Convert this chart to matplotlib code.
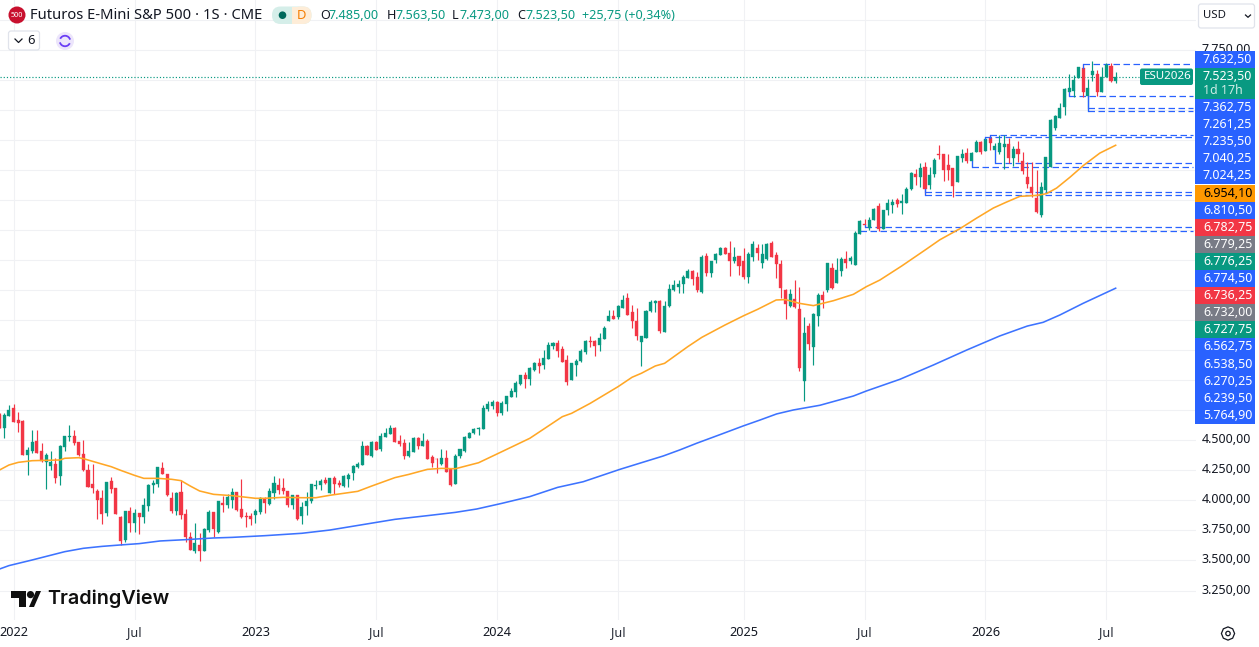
import matplotlib
matplotlib.use("Agg")
import matplotlib.pyplot as plt
from matplotlib.patches import Rectangle, FancyBboxPatch, Circle, Polygon, Arc, RegularPolygon
import numpy as np

# Weekly OHLC, index 0 is the first week of January 2022
opens = [
    4710,4605,4702,4766,4669,4660,4377,4411,4494,4411,
    4316,4286,4302,4203,4447,4530,4535,4488,4386,4253,
    4136,4078,4017,3892,4161,4100,3864,3670,3911,3814,
    3892,3864,3953,4128,4133,4272,4219,4022,3911,4069,
    3887,3698,3579,3629,3579,3753,3906,3734,3981,3961,
    4003,4069,3928,3870,3870,3878,3906,4011,3970,4058,
    4128,4106,4078,3961,4045,3873,3953,3995,4120,4128,
    4170,4064,4183,4141,4119,4177,4225,4280,4294,4455,
    4372,4488,4425,4530,4552,4602,4494,4480,4369,4405,
    4521,4452,4494,4358,4347,4299,4349,4258,4136,4369,
    4410,4521,4558,4593,4596,4760,4785,4821,4724,4801,
    4862,4904,4968,5043,5009,5084,5142,5126,5176,5287,
    5306,5259,5167,5001,5126,5159,5231,5326,5326,5293,
    5342,5495,5534,5528,5603,5683,5567,5492,5320,5353,
    5575,5644,5661,5403,5617,5750,5772,5800,5852,5908,
    5855,5736,6033,5894,5999,6041,6097,6055,5991,6033,
    5991,5861,6027,6097,5977,6008,6138,6041,5966,5750,
    5617,5672,5592,4996,5450,5278,5536,5708,5750,5936,
    5811,5911,6008,5994,5961,6216,6299,6269,6332,6449,
    6255,6415,6457,6499,6477,6477,6587,6715,6693,6770,
    6623,6715,6881,6881,6790,6765,6651,6848,6887,6823,
    6898,6981,6906,7012,6915,6898,6937,6962,6845,6923,
    6823,6687,6604,6515,6374,6582,6771,7095,7184,7275,
    7400,7408,7517,7594,7364,7539,7547,7400,7525,7614,7485,
]
highs = [
    4725,4724,4793,4802,4735,4669,4441,4585,4585,4474,
    4391,4411,4350,4461,4535,4627,4585,4488,4502,4302,
    4302,4094,4086,4155,4192,4100,3870,3911,3948,3925,
    3892,4017,4133,4170,4280,4322,4219,4072,4072,4169,
    3928,3739,3809,3726,3767,3920,3906,3995,4036,4053,
    4100,4069,4178,3906,3892,3925,4025,4025,4100,4203,
    4183,4183,4078,4045,4045,3989,4072,4136,4170,4175,
    4192,4183,4202,4169,4211,4225,4294,4319,4494,4460,
    4494,4494,4558,4599,4627,4613,4541,4510,4483,4530,
    4530,4558,4510,4377,4355,4427,4419,4266,4383,4427,
    4535,4571,4605,4607,4790,4829,4835,4829,4829,4868,
    4932,4993,5043,5070,5106,5154,5181,5251,5315,5320,
    5334,5287,5209,5140,5173,5256,5334,5370,5334,5390,
    5450,5583,5583,5625,5708,5728,5625,5597,5370,5583,
    5667,5667,5667,5661,5797,5833,5833,5875,5925,5916,
    5902,6041,6055,5991,6055,6105,6105,6158,6110,6033,
    6097,6069,6158,6133,6133,6144,6160,6069,5999,5755,
    5755,5833,5778,5522,5473,5556,5728,5742,5977,5977,
    6013,6022,6074,6033,6241,6332,6338,6354,6429,6471,
    6415,6504,6504,6518,6546,6604,6729,6754,6804,6812,
    6770,6845,6956,6881,6881,6768,6865,6920,6929,6901,
    6998,6990,7024.25,7040.25,6976,7040,7040,7012,6951,6990,
    6901,6818,6812,6748,6651,6854,7170,7206,7303,7428,
    7544,7539,7608,7632.5,7503,7655,7580,7608,7636,7636,7563.5,
]
lows = [
    4600,4521,4702,4655,4571,4377,4214,4397,4391,4322,
    4094,4253,4142,4131,4411,4497,4461,4372,4247,4114,
    4058,3845,3803,3870,4064,3887,3629,3654,3739,3739,
    3720,3814,3914,4058,4114,4219,4036,3892,3878,3842,
    3656,3587,3565,3496,3579,3739,3698,3726,3906,3934,
    3939,3914,3850,3781,3795,3814,3887,3898,3961,4009,
    4053,4053,3942,3925,3837,3803,3878,3975,4097,4086,
    4133,4064,4053,4108,4114,4114,4169,4266,4294,4377,
    4363,4419,4410,4530,4552,4488,4455,4344,4358,4405,
    4425,4452,4344,4275,4230,4294,4239,4122,4136,4355,
    4405,4516,4549,4544,4596,4743,4760,4702,4710,4743,
    4862,4862,4960,4932,4960,5079,5062,5093,5176,5259,
    5195,5148,4960,5001,5034,5148,5217,5273,5201,5245,
    5339,5495,5511,5506,5597,5542,5437,5334,5120,5348,
    5570,5564,5395,5403,5611,5744,5728,5728,5852,5792,
    5736,5728,5866,5861,5977,6041,6049,5869,5972,5875,
    5839,5811,5994,5999,5936,5999,6022,5847,5681,5509,
    5606,5603,5076,4829,5251,5126,5450,5597,5730,5755,
    5805,5869,5930,5966,5961,6216,6270.25,6249,6332,6244,
    6255,6374,6388,6438,6379,6477,6582,6623,6610,6538.5,
    6587,6693,6837,6660,6665,6526,6646,6812,6809,6774.5,
    6898,6879,6906,6915,6810.5,6881,6757,6804,6784,6818,
    6712,6596,6526,6393,6360,6568,6771,7081,7178,7206,
    7362.75,7359,7511,7359,7235.5,7489,7364,7400,7525,7483,7473,
]
closes = [
    4605,4710,4752,4655,4646,4377,4419,4488,4391,4327,
    4377,4322,4189,4455,4535,4535,4480,4377,4253,4114,
    4106,4003,3887,4155,4094,3887,3665,3911,3814,3892,
    3859,3961,4128,4144,4275,4219,4045,3911,4064,3878,
    3698,3587,3642,3579,3762,3906,3759,3995,3961,4031,
    4069,3920,3859,3864,3845,3914,4017,3981,4078,4142,
    4086,4078,3961,4045,3845,3948,3995,4136,4128,4161,
    4144,4183,4136,4128,4205,4211,4288,4302,4452,4377,
    4488,4419,4535,4558,4602,4488,4466,4369,4410,4521,
    4452,4494,4344,4313,4344,4349,4239,4128,4369,4427,
    4530,4558,4593,4602,4768,4801,4821,4724,4807,4868,
    4912,4979,5043,5009,5098,5145,5120,5181,5293,5306,
    5242,5154,4987,5140,5159,5245,5326,5320,5287,5348,
    5431,5534,5511,5617,5667,5545,5495,5367,5370,5578,
    5653,5658,5409,5617,5755,5792,5800,5861,5911,5841,
    5750,6027,5889,5991,6049,6097,6049,5991,6027,5950,
    5861,6047,6133,6055,6049,6133,6027,5963,5769,5633,
    5717,5611,5104,5389,5301,5550,5708,5667,5977,5764,
    5916,6008,5977,6013,6221,6327,6294,6332,6424,6255,
    6415,6471,6482,6465,6490,6590,6720,6693,6765,6587,
    6707,6831,6876,6748,6748,6618,6865,6881,6823,6892,
    6981,6898,7006,6970,6948,6970,6962,6845,6923,6881,
    6743,6632,6554,6402,6604,6854,7165,7198,7262,7422,
    7433,7497,7603,7400,7433,7572,7400,7525,7622,7492,7523.5,
]

# Moving averages, sampled at the listed week indices
ma_fast_weeks = [-3,-1,1,4,10,11,14,15,19,21,23,26,28,31,34,36,38,40,43,47,52,54,58,62,65,68,
                 74,77,82,85,89,92,95,100,105,111,114,118,120,124,130,133,135,138,140,145,148,153,157,
                 160,164,166,169,172,176.3,180.6,183.4,186.3,191,196.3,199.2,203.5,207.1,210.7,213.5,
                 216.4,220,222.1,224.3,227.2,230,233.6,237]
ma_fast_values = [4253,4294,4316,4330,4336,4350,4355,4347,4302,4280,4250,4208,4183,4183,4175,4164,4119,4078,4050,4039,4017,4017,4025,4022,4022,4042,
                  4075,4119,4189,4216,4258,4266,4263,4313,4405,4516,4593,4696,4724,4807,4946,5024,5057,5118,5140,5279,5356,5459,5536,
                  5589,5667,5670,5639,5620,5661,5714,5778,5833,5950,6090,6168,6260,6348,6432,6481,
                  6529,6537,6551,6598,6689,6784,6889,6954.1]
ma_slow_weeks = [-3,-1,4,11,15,19,23,27,31.5,37,43,47,54,62,68,82,89.5,95,99.6,105,111,117,122.5,130.4,135,139.7,
                 143.3,146.9,152,156.9,160.5,164.1,167.7,173.4,180.6,183.4,190.6,197.8,205,212.1,218,221.4,225,230,237]
ma_slow_values = [3429,3457,3504,3573,3601,3617,3629,3640,3662,3673,3687,3692,3706,3726,3753,3842,3875,3900,3928,3975,4031,4108,4155,4258,4313,4369,
                  4420,4475,4548,4619,4668,4719,4752,4791,4868,4910,5007,5126,5251,5368,5450,5481,5542,5639,5764.9]

# Support / resistance levels: price and the week each one starts from
level_prices = [7632.50,7362.75,7261.25,7235.50,7040.25,7024.25,6810.50,6774.50,6562.75,6538.50,6270.25,6239.50]
level_weeks = [230,227,231,231,210,209,211,206,196,196,183,182]

# Right-hand price tags below the countdown tag
tag_texts = ["7.362,75","7.261,25","7.235,50","7.040,25","7.024,25","6.954,10","6.810,50","6.782,75",
             "6.779,25","6.776,25","6.774,50","6.736,25","6.732,00","6.727,75","6.562,75","6.538,50",
             "6.270,25","6.239,50","5.764,90"]
tag_kinds = ["b","b","b","b","b","o","b","r","g","t","b","r","g","t","b","b","b","b","b"]

price_ticks = [7750,4500,4250,4000,3750,3500,3250]
price_tick_labels = ["7.750,00","4.500,00","4.250,00","4.000,00","3.750,00","3.500,00","3.250,00"]
time_weeks = [0,26,52,78,104,130,157,183,209,235]
time_labels = ["2022","Jul","2023","Jul","2024","Jul","2025","Jul","2026","Jul"]

UP = "#089981"
DOWN = "#f23645"
BLUE = "#2962ff"
INK = "#131722"
GRID = "#f0f1f4"
FONT = ["Noto Sans", "DejaVu Sans"]
plt.rcParams["font.family"] = FONT

W, H = 1259, 647
PANE_W, PANE_H = 1196, 620
fig = plt.figure(figsize=(W / 100, H / 100), dpi=100, facecolor="white")
ax = fig.add_axes([0, 1 - PANE_H / H, PANE_W / W, PANE_H / H])

# Scales: 4.65 px per week, 0.1202 px per point
px_week, px_point = 4.65, 0.1202
ax.set_xlim(-13.6 / px_week, (PANE_W - 13.6) / px_week)
ax.set_ylim(3250 - (PANE_H - 590.5) / px_point, 3250 + 590.5 / px_point)
ax.set_xticks(time_weeks)
ax.set_yticks(np.arange(3250, 8001, 250))
ax.grid(True, color=GRID, lw=0.8)
ax.set_axisbelow(True)
ax.tick_params(length=0, labelbottom=False, labelleft=False)
for s in ax.spines.values():
    s.set_visible(False)

weeks = np.arange(-3, 238)
o, h, l, c = map(np.array, (opens, highs, lows, closes))
colors = [UP if ci >= oi else DOWN for oi, ci in zip(o, c)]

# Dashed levels with the solid stub back to the body of the pivot candle
for price, wk in zip(level_prices, level_weeks):
    ax.plot([wk, 253.7], [price, price], color=BLUE, lw=0.9, dashes=(5.2, 2.8), zorder=2)

ax.vlines(weeks, l, h, colors=colors, lw=0.85, zorder=3)
ax.bar(weeks, np.abs(c - o), bottom=np.minimum(o, c), width=0.66, color=colors,
       edgecolor=colors, linewidth=0.25, zorder=4)

for price, wk in zip(level_prices, level_weeks):
    i = wk + 3
    top, bot = max(o[i], c[i]), min(o[i], c[i])
    if price > top:
        ax.plot([wk, wk], [top, price], color=BLUE, lw=0.85, zorder=5)
    elif price < bot:
        ax.plot([wk, wk], [bot, price], color=BLUE, lw=0.85, zorder=5)

ax.plot(ma_fast_weeks, ma_fast_values, color="#ffa726", lw=1.15, zorder=5)
ax.plot(ma_slow_weeks, ma_slow_values, color="#3d73ff", lw=1.15, zorder=5)

# Last-price dotted line, stops at the contract tag
ax.plot([-3, (1139 - 13.6) / px_week], [closes[-1], closes[-1]], color=UP, lw=0.85,
        dashes=(1, 1.7), zorder=2)

# Overlay in pixel units for the price scale and the header furniture
ov = fig.add_axes([0, 0, 1, 1], zorder=10)
ov.set_xlim(0, W)
ov.set_ylim(H, 0)
ov.axis("off")
ov.patch.set_alpha(0)


def txt(x, y, s, size=9.4, color=INK, ha="left", weight="normal", **kw):
    return ov.text(x, y, s, fontsize=size, color=color, ha=ha, va="center", fontweight=weight, **kw)


# Axis tick labels
for p, s in zip(price_ticks, price_tick_labels):
    txt(1251, 590.5 - (p - 3250) * px_point - 0.5, s, size=9.0, ha="right")
for wk, s in zip(time_weeks, time_labels):
    year = s != "Jul"
    txt(13.6 + wk * px_week, 633, s, size=9.1, ha="center", color=INK if year else "#2a2e39",
        weight="medium" if year else "normal")

# Price tags
tag_fill = {"b": BLUE, "o": "#ff9800", "r": DOWN, "g": "#787b86", "t": UP}
x0, x1 = 1195, 1255
row = 17.1
ov.add_patch(Rectangle((x0, 51), x1 - x0, row, fc=BLUE, ec="none", zorder=3))
txt(1203, 59.5, "7.632,50", size=8.95, color="white", weight="medium", zorder=4)
ov.add_patch(Rectangle((x0, 68), x1 - x0, 31, fc=UP, ec="none", zorder=3))
txt(1203, 76.5, "7.523,50", size=8.95, color="white", weight="medium", zorder=4)
txt(1203, 90, "1d 17h", size=8.95, color="#cdece6", zorder=4)
y = 99.0
for s, kind in zip(tag_texts, tag_kinds):
    ov.add_patch(Rectangle((x0, y), x1 - x0, row, fc=tag_fill[kind], ec="none", zorder=3))
    txt(1203, y + row / 2, s, size=8.95, color="black" if kind == "o" else "white",
        weight="medium", zorder=4)
    y += row
ov.add_patch(FancyBboxPatch((1140, 68.5), 53, 16.5, boxstyle="round,pad=0,rounding_size=2", fc=UP, ec="none", zorder=3))
txt(1167.5, 76.8, "ESU2026", size=8.3, color="white", ha="center", zorder=4, weight="medium")

# Symbol header
ov.add_patch(Circle((17, 15), 8.5, fc="#c8102e", ec="none"))
txt(17, 15.2, "500", size=5.2, color="white", ha="center", weight="bold")
txt(30, 15.5, "Futuros E-Mini S&P 500 · 1S · CME", size=10.65)
ov.add_patch(FancyBboxPatch((272, 6.5), 39.5, 17.5, boxstyle="round,pad=0,rounding_size=8.5", fc="#d5eee9", ec="none"))
ov.add_patch(FancyBboxPatch((292, 6.5), 19.5, 17.5, boxstyle="round,pad=0,rounding_size=8.5", fc="#feedd8", ec="none"))
ov.add_patch(Rectangle((292, 6.5), 9, 17.5, fc="#feedd8", ec="none"))
ov.add_patch(Circle((282.5, 15.2), 3.8, fc="#00695c", ec="none"))
txt(301.5, 15.5, "D", size=9.3, color="#f57c00", ha="center")
for x_l, letter, x_v, value in [(320, "O", 329, "7.485,00"), (387, "H", 396, "7.563,50"),
                                (452, "L", 460, "7.473,00"), (517, "C", 526, "7.523,50")]:
    txt(x_l, 15.5, letter, size=9.1)
    txt(x_v, 15.5, value, size=9.1, color=UP)
txt(582, 15.5, "+25,75 (+0,34%)", size=9.1, color=UP)

# Collapse button and refresh badge
ov.add_patch(FancyBboxPatch((8.5, 31), 31, 19, boxstyle="round,pad=0,rounding_size=2.5", fc="white", ec="#e0e3eb", lw=0.9))
ov.plot([15, 18.5, 22], [39, 42.5, 39], color=INK, lw=0.9)
txt(31, 40.8, "6", size=9.3, ha="center")
ov.add_patch(Circle((65, 41), 9, fc="#ece5fb", ec="none"))
ov.add_patch(Arc((65, 41), 10.5, 10.5, theta1=25, theta2=165, color="#6a3df5", lw=1.3))
ov.add_patch(Arc((65, 41), 10.5, 10.5, theta1=205, theta2=345, color="#6a3df5", lw=1.3))

# Currency selector
ov.add_patch(FancyBboxPatch((1198.5, 4), 56, 24, boxstyle="round,pad=0,rounding_size=2.5", fc="white", ec="#e0e3eb", lw=0.9))
txt(1203, 15.8, "USD", size=8.2)
ov.plot([1245.5, 1248, 1250.5], [15, 17.3, 15], color=INK, lw=0.9)

# Settings gear
ov.add_patch(RegularPolygon((1228, 633.5), 8, radius=6.6, fc="white", ec=INK, lw=0.9))
ov.add_patch(Circle((1228, 633.5), 2.2, fc="white", ec=INK, lw=0.9))

# Brand mark
ov.add_patch(Polygon([(11, 591), (26.5, 591), (26.5, 607), (19, 607), (19, 598), (11, 598)], fc="#0f0f0f", ec="none"))
ov.add_patch(Circle((30.5, 594.6), 3.6, fc="#0f0f0f", ec="none"))
ov.add_patch(Polygon([(29, 607), (36, 591), (41, 591), (34, 607)], fc="#0f0f0f", ec="none"))
txt(47.5, 599, "TradingView", size=14.25, color="#0f0f0f", family=["Inter", "DejaVu Sans"], weight="semibold")

fig.savefig("out.png", dpi=100, facecolor="white")
